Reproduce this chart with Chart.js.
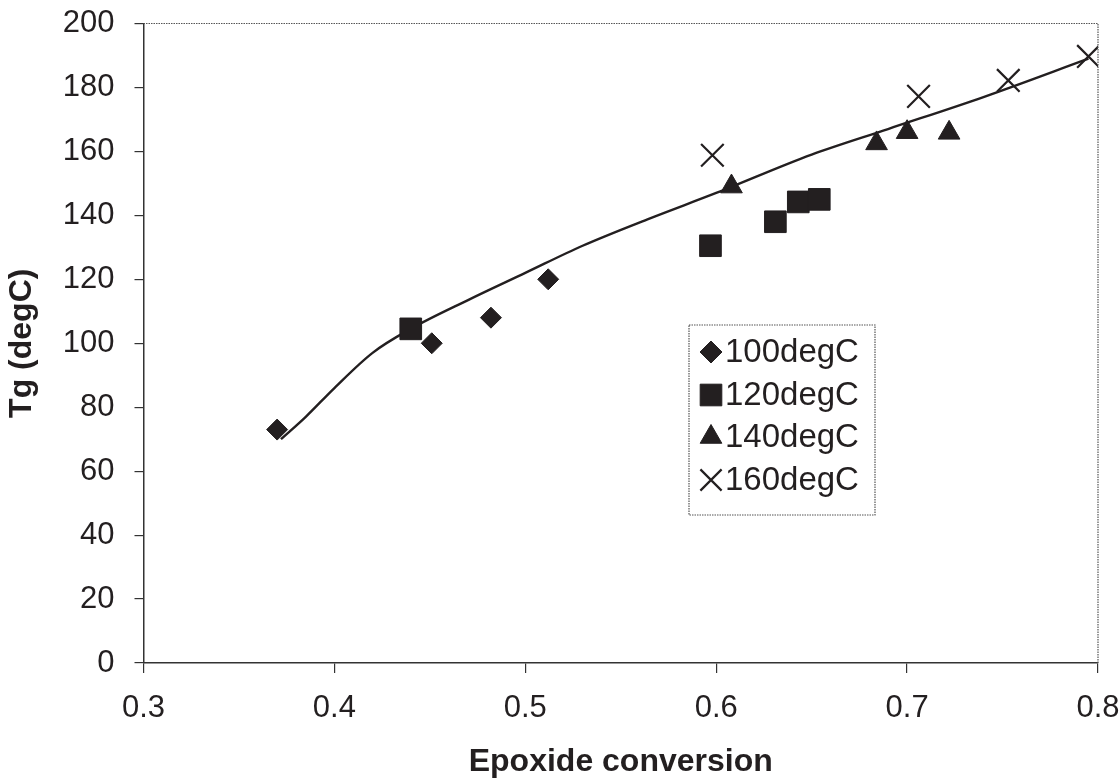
<!DOCTYPE html>
<html>
<head>
<meta charset="utf-8">
<script src="https://cdn.jsdelivr.net/npm/chart.js@4/dist/chart.umd.min.js"></script>
<style>
  html, body { margin: 0; padding: 0; background: #fff; }
  #wrap { width: 1120px; height: 778px; }
</style>
</head>
<body>
<div id="wrap"><canvas id="tg-chart" width="1120" height="778"></canvas></div>
<script>
const x100 = [0.370, 0.451, 0.482, 0.512];
const y100 = [73, 100, 108, 120];
const x120 = [0.440, 0.597, 0.631, 0.643, 0.654];
const y120 = [104.5, 130.5, 138, 144.2, 145];
const x140 = [0.608, 0.684, 0.700, 0.722];
const y140 = [149, 162.5, 166, 165.8];
const x160 = [0.598, 0.706, 0.753, 0.795];
const y160 = [158.8, 177.2, 182.2, 189.7];
const fitX = [0.372, 0.385, 0.40, 0.42, 0.44, 0.47, 0.50, 0.53, 0.565, 0.60, 0.65, 0.69, 0.74, 0.795];
const fitY = [70, 77, 86, 97, 104.5, 113.5, 122, 130.5, 139, 147, 159, 167, 177, 189];
const xTicks = [0.3, 0.4, 0.5, 0.6, 0.7, 0.8];

const INK = "#231f20";
const FONT = "'Liberation Sans', Arial, sans-serif";

function pts(xs, ys) {
  return xs.map((x, i) => ({ x: x, y: ys[i] }));
}

const markerSets = [
  { label: "100degC", data: pts(x100, y100), pointStyle: "rectRot", pointRadius: 10.5, borderWidth: 1 },
  { label: "120degC", data: pts(x120, y120), pointStyle: "rect", pointRadius: 15.3, borderWidth: 1 },
  { label: "140degC", data: pts(x140, y140), pointStyle: "triangle", pointRadius: 12.5, borderWidth: 1 },
  { label: "160degC", data: pts(x160, y160), pointStyle: "crossRot", pointRadius: 16, borderWidth: 2.2 },
];

const datasets = markerSets.map(s => ({
  type: "scatter",
  label: s.label,
  data: s.data,
  pointStyle: s.pointStyle,
  pointRadius: s.pointRadius,
  pointBorderWidth: s.borderWidth,
  backgroundColor: INK,
  borderColor: INK,
  order: 1,
}));

datasets.push({
  type: "line",
  label: "fit",
  data: pts(fitX, fitY),
  borderColor: INK,
  borderWidth: 2.4,
  pointRadius: 0,
  fill: false,
  cubicInterpolationMode: "monotone",
  order: 2,
});

// frame on top/right and legend box inside the plot
const framePlugin = {
  id: "frame",
  afterDraw(chart) {
    const { ctx, chartArea: a } = chart;
    ctx.save();
    ctx.strokeStyle = "#555";
    ctx.lineWidth = 1.2;
    ctx.setLineDash([1.5, 1]);
    ctx.beginPath();
    ctx.moveTo(a.left, a.top);
    ctx.lineTo(a.right, a.top);
    ctx.lineTo(a.right, a.bottom);
    ctx.stroke();

    // legend
    const box = { x: 689, y: 325, w: 186, h: 190 };
    ctx.fillStyle = "#fff";
    ctx.fillRect(box.x, box.y, box.w, box.h);
    ctx.strokeRect(box.x, box.y, box.w, box.h);
    ctx.setLineDash([]);
    const rowY = [352, 395, 437, 480];
    const legendR = [11, 15.3, 12.5, 15];
    ctx.font = "33px " + FONT;
    ctx.textBaseline = "middle";
    ctx.textAlign = "left";
    markerSets.forEach((s, i) => {
      ctx.fillStyle = INK;
      ctx.strokeStyle = INK;
      ctx.lineWidth = s.borderWidth;
      Chart.helpers.drawPoint(ctx, {
        pointStyle: s.pointStyle,
        radius: legendR[i],
        rotation: 0,
        borderWidth: s.borderWidth,
      }, 711, rowY[i]);
      ctx.fillStyle = INK;
      ctx.fillText(s.label, 725, rowY[i] + 1);
    });
    ctx.restore();
  },
};

new Chart(document.getElementById("tg-chart").getContext("2d"), {
  type: "scatter",
  data: { datasets: datasets },
  options: {
    responsive: false,
    animation: false,
    layout: { padding: { top: 23.5, right: 22, left: 0, bottom: 0 } },
    plugins: {
      legend: { display: false },
      tooltip: { enabled: false },
    },
    scales: {
      x: {
        type: "linear",
        min: 0.3,
        max: 0.8,
        afterBuildTicks: s => { s.ticks = xTicks.map(v => ({ value: v })); },
        ticks: {
          padding: 17,
          color: INK,
          font: { family: FONT, size: 31 },
          callback: v => v.toFixed(1),
        },
        grid: { drawOnChartArea: false, tickLength: 10, color: "#333", lineWidth: 1.2 },
        border: { display: true, color: "#333", width: 1.5 },
        title: {
          display: true,
          text: "Epoxide conversion",
          color: INK,
          font: { family: FONT, size: 32, weight: "bold", lineHeight: 1 },
          padding: { top: 0, bottom: 0 },
        },
        afterFit: s => {
          s.height = 115;
          s.paddingLeft = 0;
          s.paddingRight = 0;
        },
      },
      y: {
        min: 0,
        max: 200,
        ticks: {
          stepSize: 20,
          padding: 20,
          color: INK,
          font: { family: FONT, size: 31 },
        },
        grid: { drawOnChartArea: false, tickLength: 9, color: "#333", lineWidth: 1.2 },
        border: { display: true, color: "#333", width: 1.5 },
        title: {
          display: true,
          text: "Tg (degC)",
          color: INK,
          font: { family: FONT, size: 32, weight: "bold", lineHeight: 1 },
          padding: { top: 6, bottom: 0 },
        },
        afterFit: s => {
          s.width = 143.5;
          s.paddingTop = 0;
          s.paddingBottom = 0;
        },
      },
    },
  },
  plugins: [framePlugin],
});
</script>
</body>
</html>
